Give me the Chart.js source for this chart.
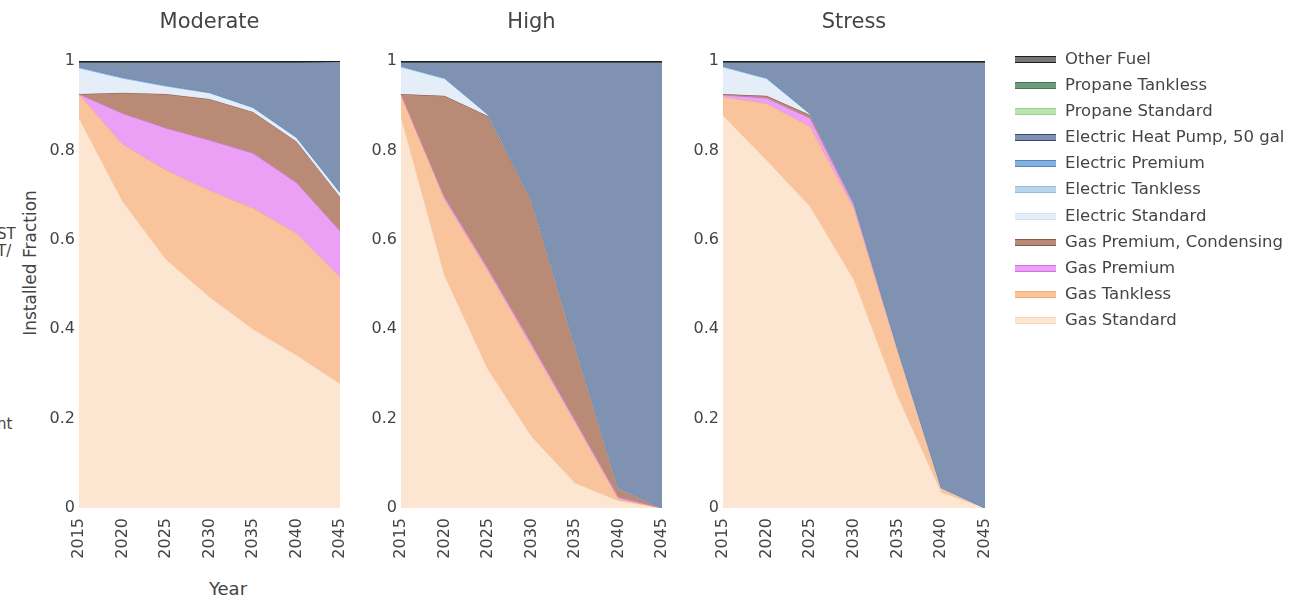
<!DOCTYPE html>
<html>
<head>
<meta charset="utf-8">
<script src="https://cdn.jsdelivr.net/npm/chart.js@4.4.0/dist/chart.umd.min.js"></script>
<style>
  html, body { margin: 0; padding: 0; background: #ffffff; }
  #page { position: relative; width: 1291px; height: 598px; overflow: hidden;
          font-family: "DejaVu Sans", Verdana, sans-serif; color: #444; }
  .panel { position: absolute; top: 0; }
  .frag { position: absolute; left: -3px; font-size: 15px; line-height: 16px; color: #444; white-space: nowrap; }
  #ytitle { position: absolute; left: 30px; top: 263px; font-size: 17px; white-space: nowrap;
            transform: translate(-50%, -50%) rotate(-90deg); }
  #xtitle { position: absolute; left: 228px; top: 588px; font-size: 18px; white-space: nowrap;
            transform: translate(-50%, -50%); }
  #legend { position: absolute; left: 1015px; top: 46px; }
  .item { position: relative; height: 26.1px; }
  .swatch { position: absolute; left: 0; top: 10px; width: 41px; height: 5px; border-style: solid; border-width: 1px 0; }
  .label { position: absolute; left: 50px; top: 3px; font-size: 16.5px; line-height: 20px; white-space: nowrap; color: #444; }
</style>
</head>
<body>
<div id="page">
  <div class="frag" style="top:226px">ST</div>
  <div class="frag" style="top:243px">T/</div>
  <div class="frag" style="top:416px">nt</div>
  <div id="ytitle">Installed Fraction</div>
  <div id="xtitle">Year</div>
  <div class="panel" id="p0"><canvas id="c0"></canvas></div>
  <div class="panel" id="p1"><canvas id="c1"></canvas></div>
  <div class="panel" id="p2"><canvas id="c2"></canvas></div>
  <div id="legend"></div>
</div>
<script>
// Water-heater stock by technology, share of installed units per year
const years = ['2015', '2020', '2025', '2030', '2035', '2040', '2045'];
const yTickValues = [0, 0.2, 0.4, 0.6, 0.8, 1];
const scenarioNames = ['Moderate', 'High', 'Stress'];

// stacked bottom to top
const seriesNames = [
  'Gas Standard', 'Gas Tankless', 'Gas Premium', 'Gas Premium, Condensing',
  'Electric Standard', 'Electric Tankless', 'Electric Premium', 'Electric Heat Pump, 50 gal',
  'Propane Standard', 'Propane Tankless', 'Other Fuel'
];
const lineColors = [
  '#f8d6b8', '#f5a872', '#d46fe0', '#8b5a46',
  '#d3e1f1', '#8fbde0', '#4f86c0', '#35497a',
  '#9bd392', '#3e7a52', '#1e1e1e'
];
const fillColors = [
  '#fce6d2', '#f9c49c', '#eba0f5', '#b98b77',
  '#e4edf8', '#b7d5ec', '#86b0dc', '#7f92b2',
  '#b9e4b2', '#6e9a7c', '#777777'
];

// one row per technology, same order as seriesNames
const moderateShares = [
  [0.872, 0.686, 0.556, 0.472, 0.400, 0.342, 0.278],
  [0.054, 0.128, 0.200, 0.239, 0.271, 0.273, 0.239],
  [0.000, 0.069, 0.094, 0.112, 0.123, 0.113, 0.103],
  [0.000, 0.046, 0.076, 0.092, 0.092, 0.092, 0.076],
  [0.058, 0.032, 0.017, 0.013, 0.009, 0.008, 0.009],
  [0.001, 0.001, 0.001, 0.001, 0.001, 0.001, 0.001],
  [0.002, 0.002, 0.002, 0.001, 0.001, 0.001, 0.001],
  [0.011, 0.034, 0.052, 0.068, 0.101, 0.168, 0.292],
  [0, 0, 0, 0, 0, 0, 0],
  [0, 0, 0, 0, 0, 0, 0],
  [0.002, 0.002, 0.002, 0.002, 0.002, 0.002, 0.002]
];
const highShares = [
  [0.875, 0.520, 0.310, 0.160, 0.056, 0.016, 0],
  [0.051, 0.170, 0.220, 0.202, 0.136, 0.004, 0],
  [0.000, 0.006, 0.006, 0.006, 0.005, 0.004, 0],
  [0.000, 0.226, 0.341, 0.321, 0.168, 0.021, 0],
  [0.060, 0.038, 0.003, 0.001, 0, 0, 0],
  [0.001, 0.001, 0, 0, 0, 0, 0],
  [0.002, 0.002, 0.001, 0.001, 0.001, 0.001, 0],
  [0.009, 0.035, 0.117, 0.307, 0.632, 0.952, 0.998],
  [0, 0, 0, 0, 0, 0, 0],
  [0, 0, 0, 0, 0, 0, 0],
  [0.002, 0.002, 0.002, 0.002, 0.002, 0.002, 0.002]
];
const stressShares = [
  [0.878, 0.778, 0.674, 0.510, 0.250, 0.035, 0],
  [0.042, 0.127, 0.179, 0.160, 0.102, 0.010, 0],
  [0.004, 0.012, 0.019, 0.008, 0.004, 0, 0],
  [0.002, 0.005, 0.007, 0.004, 0, 0, 0],
  [0.060, 0.038, 0.002, 0, 0, 0, 0],
  [0.001, 0.001, 0, 0, 0, 0, 0],
  [0.002, 0.002, 0.001, 0.001, 0.001, 0.001, 0],
  [0.009, 0.035, 0.116, 0.315, 0.641, 0.952, 0.998],
  [0, 0, 0, 0, 0, 0, 0],
  [0, 0, 0, 0, 0, 0, 0],
  [0.002, 0.002, 0.002, 0.002, 0.002, 0.002, 0.002]
];

const FONT = '"DejaVu Sans", Verdana, sans-serif';
Chart.defaults.font.family = FONT;
Chart.defaults.color = '#444';

// plot-area left/right edges of each panel and shared top/bottom
const plotEdges = [[79, 340], [401, 662], [723, 985]];
const plotTop = 61, plotBottom = 508, pageH = 598;
const yAxisW = 40, padRight = 36;

// running totals so each band's upper edge sits on the one below
function cumulative(shares) {
  const out = [];
  shares.forEach((row, i) => {
    out.push(row.map((v, j) => +(v + (i ? out[i - 1][j] : 0)).toFixed(4)));
  });
  return out;
}

function makePanel(idx, title, shares) {
  const [L, R] = plotEdges[idx];
  const holder = document.getElementById('p' + idx);
  const canvas = document.getElementById('c' + idx);
  const w = (R - L) + yAxisW + padRight;
  holder.style.left = (L - yAxisW) + 'px';
  canvas.width = w; canvas.height = pageH;
  canvas.style.width = w + 'px'; canvas.style.height = pageH + 'px';

  const titleSize = 21;
  const titleTopPad = 10;
  const titleBottomPad = plotTop - titleTopPad - titleSize * 1.2;
  const tops = cumulative(shares);
  const n = seriesNames.length;

  new Chart(canvas, {
    type: 'line',
    data: {
      labels: years,
      datasets: seriesNames.map((name, i) => ({
        label: name,
        data: tops[i],
        borderColor: lineColors[i],
        backgroundColor: fillColors[i],
        borderWidth: i === n - 1 ? 3 : 1,
        fill: i === 0 ? 'origin' : '-1',
        order: n - i,          // upper bands painted last
        pointRadius: 0,
        tension: 0
      }))
    },
    options: {
      responsive: false,
      animation: false,
      events: [],
      layout: { padding: { top: 0, right: padRight, bottom: 0, left: 0 } },
      plugins: {
        legend: { display: false },
        tooltip: { enabled: false },
        title: {
          display: true, text: title, fullSize: false, color: '#444',
          font: { family: FONT, size: titleSize, weight: 'normal' },
          padding: { top: titleTopPad, bottom: titleBottomPad }
        }
      },
      scales: {
        x: {
          type: 'category', offset: false,
          grid: { display: false, drawTicks: false }, border: { display: false },
          ticks: { color: '#444', font: { size: 16 }, minRotation: 90, maxRotation: 90, autoSkip: false, padding: 10 },
          afterFit(s) { s.height = pageH - plotBottom; }
        },
        y: {
          min: 0, max: 1,
          grid: { display: false, drawTicks: false }, border: { display: false },
          afterBuildTicks(s) { s.ticks = yTickValues.map(v => ({ value: v })); },
          ticks: { color: '#444', font: { size: 16 }, padding: 4,
                   callback: v => String(+(+v).toFixed(1)) },
          afterFit(s) { s.width = yAxisW; }
        }
      }
    }
  });
}

makePanel(0, scenarioNames[0], moderateShares);
makePanel(1, scenarioNames[1], highShares);
makePanel(2, scenarioNames[2], stressShares);

// legend, top entry is the last stacked series
const legend = document.getElementById('legend');
for (let i = seriesNames.length - 1; i >= 0; i--) {
  const item = document.createElement('div');
  item.className = 'item';
  const sw = document.createElement('div');
  sw.className = 'swatch';
  sw.style.background = fillColors[i];
  sw.style.borderColor = lineColors[i];
  const lb = document.createElement('div');
  lb.className = 'label';
  lb.textContent = seriesNames[i];
  item.appendChild(sw); item.appendChild(lb);
  legend.appendChild(item);
}
</script>
</body>
</html>
